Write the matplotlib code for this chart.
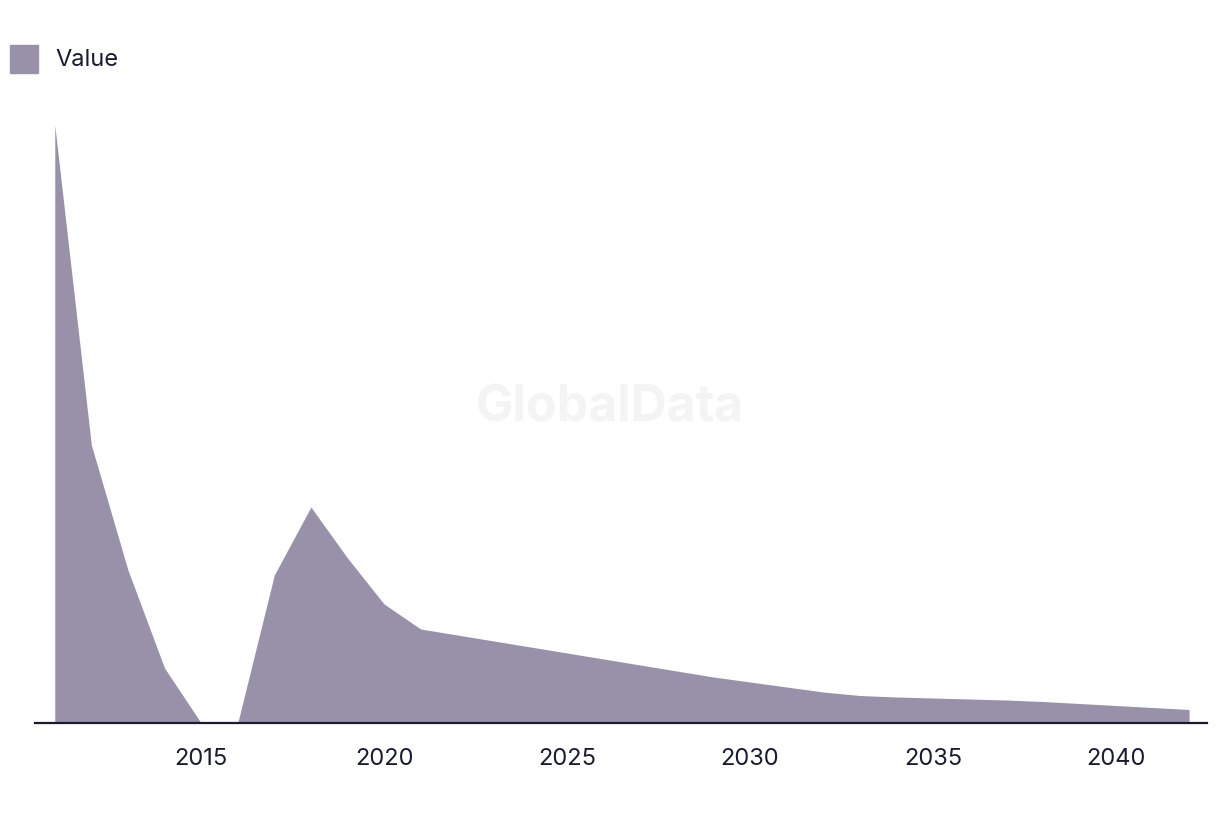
import matplotlib
matplotlib.use("Agg")
import matplotlib.pyplot as plt
from matplotlib.patches import Rectangle

years = list(range(2011, 2043))
values = [59.8, 27.8, 15.3, 5.5, 0.0, 0.0, 14.8, 21.6, 16.5, 11.9,
          9.4, 8.8, 8.2, 7.6, 7.0, 6.4, 5.8, 5.2, 4.6, 4.1,
          3.6, 3.1, 2.75, 2.6, 2.5, 2.4, 2.3, 2.15, 1.95, 1.75,
          1.55, 1.35]
tick_years = [2015, 2020, 2025, 2030, 2035, 2040]
series_name = "Value"

fill_color = "#9991a9"
text_color = "#1b1a33"

plt.rcParams["font.family"] = ["Inter", "DejaVu Sans"]

fig = plt.figure(figsize=(12.2, 8.14), dpi=100)
ax = fig.add_axes([35 / 1220, 91 / 814, 1172 / 1220, 623 / 814])

ax.fill_between(years, values, 0, color=fill_color, linewidth=0)

ax.set_xlim(2010.46, 2042.49)
ax.set_ylim(0, 62.3)
ax.set_xticks(tick_years)
ax.set_xticklabels([str(y) for y in tick_years])
ax.tick_params(axis="x", length=0, pad=18, labelsize=17, labelcolor=text_color)
ax.set_yticks([])
for side in ["top", "right", "left"]:
    ax.spines[side].set_visible(False)
ax.spines["bottom"].set_color(text_color)
ax.spines["bottom"].set_linewidth(1.6)

# watermark
fig.text(610 / 1220, 1 - 408 / 814, "GlobalData", ha="center", va="center",
         fontsize=36, fontweight="bold", color="#f4f4f4", zorder=0)

# legend
fig.patches.append(Rectangle((10 / 1220, 1 - 73 / 814), 28 / 1220, 28 / 814,
                             transform=fig.transFigure, color=fill_color))
fig.text(55 / 1220, 1 - 60 / 814, series_name, ha="left", va="center",
         fontsize=17, color=text_color)

fig.savefig("out.png", dpi=100)
